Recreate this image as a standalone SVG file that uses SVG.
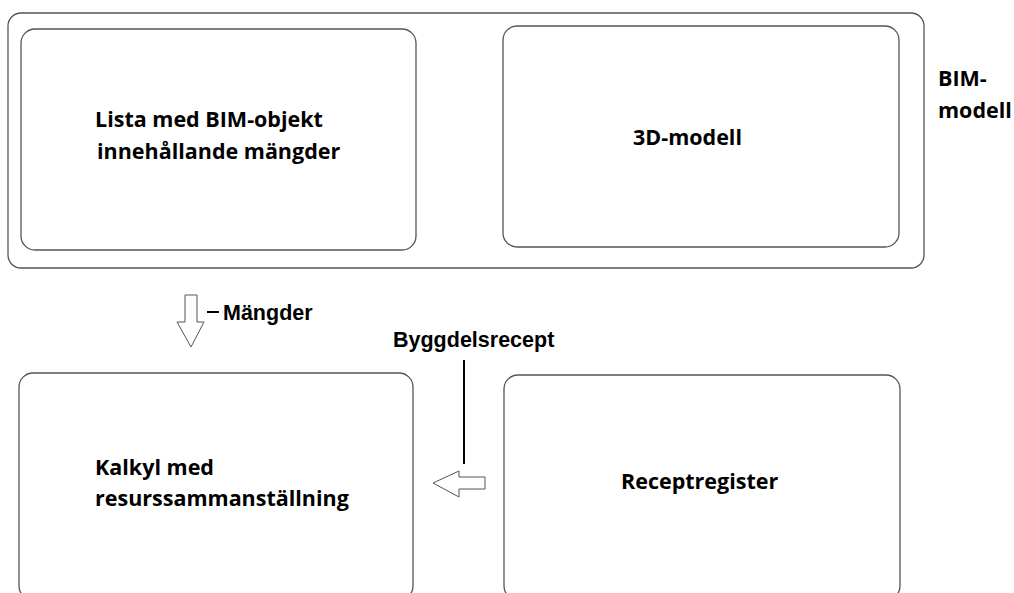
<svg xmlns="http://www.w3.org/2000/svg" width="1014" height="593" viewBox="0 0 1014 593">
<style>
.box{fill:#fff;stroke:#555;stroke-width:1.3}
.t{font-family:"Open Sans","Liberation Sans",sans-serif;font-weight:bold;font-size:21.5px;fill:#000}
.a{font-family:"Liberation Sans",Arial,sans-serif;font-weight:bold;font-size:21.5px;fill:#000}
.arr{fill:#fff;stroke:#555;stroke-width:1}
</style>
<rect width="1014" height="593" fill="#fff"/>
<g id="bim-modell">
<rect class="box" x="8" y="13" width="916" height="255" rx="13"/>
<text class="t" x="938" y="86">BIM-</text>
<text class="t" x="938" y="118">modell</text>
</g>
<g id="lista">
<rect class="box" x="21" y="29" width="395" height="221" rx="14"/>
<text class="t" x="95" y="127">Lista med BIM-objekt</text>
<text class="t" x="97" y="159">innehållande mängder</text>
</g>
<g id="modell3d">
<rect class="box" x="503" y="26" width="396" height="221" rx="14"/>
<text class="t" x="633" y="145">3D-modell</text>
</g>
<g id="kalkyl">
<rect class="box" x="19" y="373" width="394" height="227" rx="14"/>
<text class="t" x="95" y="475">Kalkyl med</text>
<text class="t" x="95" y="506">resurssammanställning</text>
</g>
<g id="receptregister">
<rect class="box" x="504" y="375" width="396" height="225" rx="14"/>
<text class="t" x="621" y="489">Receptregister</text>
</g>
<g id="connectors">
<polygon class="arr" points="185,295 197,295 197,322 204,322 191,347 177,322 185,322"/>
<line x1="207" y1="312" x2="219" y2="312" stroke="#000" stroke-width="2"/>
<text class="a" x="223" y="320">Mängder</text>
<text class="a" x="393" y="347">Byggdelsrecept</text>
<line x1="464" y1="360" x2="464" y2="464" stroke="#000" stroke-width="2"/>
<polygon class="arr" points="485,477 459,477 459,471 433,483 459,497 459,489 485,489"/>
</g>
</svg>
